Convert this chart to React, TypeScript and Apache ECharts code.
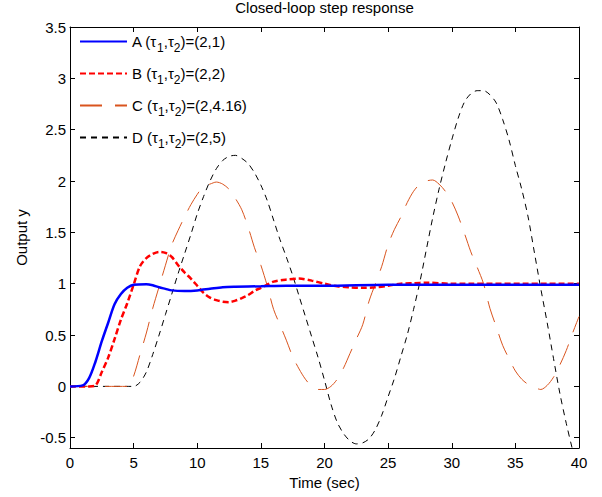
import React, { useEffect, useRef } from "react";
import * as echarts from "echarts";

const titleText = "Closed-loop step response";
const xAxisTitle = "Time (sec)";
const yAxisTitle = "Output y";

const xTicks = [0, 5, 10, 15, 20, 25, 30, 35, 40];
const yTicks = [-0.5, 0, 0.5, 1, 1.5, 2, 2.5, 3, 3.5];

const seriesNames = ["A", "B", "C", "D"];
const legendParams = ["(2,1)", "(2,2)", "(2,4.16)", "(2,5)"];

const timeA = [0, 1, 1.5, 2, 2.5, 3, 3.5, 4, 4.5, 5, 6, 6.5, 7, 7.5, 8, 9, 10, 11, 12, 13, 15, 17, 20, 25, 40];
const valuesA = [0, 0.01, 0.08, 0.24, 0.44, 0.62, 0.8, 0.9, 0.96, 0.99, 0.995, 0.985, 0.965, 0.95, 0.935, 0.93, 0.935, 0.95, 0.965, 0.97, 0.975, 0.98, 0.98, 0.99, 0.99];

const timeB = [0, 1.5, 2, 2.5, 3, 3.5, 4, 4.5, 5, 5.5, 6, 6.5, 7, 7.5, 8, 8.5, 9, 9.5, 10, 10.5, 11, 11.5, 12, 12.5, 13, 13.5, 14, 14.5, 15, 15.5, 16, 17, 18, 19, 20, 21, 22, 23, 24, 25, 26, 27, 28, 30, 40];
const valuesB = [0, 0, 0.01, 0.14, 0.28, 0.46, 0.65, 0.81, 0.99, 1.17, 1.25, 1.29, 1.31, 1.3, 1.26, 1.18, 1.11, 1.05, 0.98, 0.91, 0.865, 0.84, 0.825, 0.82, 0.835, 0.86, 0.89, 0.93, 0.96, 0.99, 1.02, 1.04, 1.05, 1.03, 1.0, 0.975, 0.965, 0.96, 0.965, 0.98, 1.0, 1.005, 1.01, 1.0, 1.0];

const timeC = [0, 4.6, 5, 5.5, 6, 6.5, 7, 7.5, 8, 8.5, 9, 9.5, 10, 10.5, 11, 11.5, 12, 12.5, 13, 13.5, 14, 14.5, 15, 15.5, 16, 16.5, 17, 17.5, 18, 18.5, 19, 19.5, 20, 20.5, 21, 21.5, 22, 22.5, 23, 23.5, 24, 24.5, 25, 25.5, 26, 26.5, 27, 27.5, 28, 28.5, 29, 29.5, 30, 30.5, 31, 31.5, 32, 32.5, 33, 33.5, 34, 34.5, 35, 35.5, 36, 36.5, 37, 37.5, 38, 38.5, 39, 39.5, 40];
const valuesC = [0, 0, 0.1, 0.31, 0.52, 0.76, 0.97, 1.18, 1.38, 1.52, 1.65, 1.77, 1.87, 1.95, 1.97, 1.99, 1.97, 1.92, 1.83, 1.72, 1.55, 1.35, 1.18, 0.98, 0.75, 0.6, 0.45, 0.29, 0.17, 0.07, 0.0, -0.03, -0.03, 0.0, 0.07, 0.18, 0.32, 0.46, 0.6, 0.83, 1.0, 1.17, 1.38, 1.53, 1.65, 1.79, 1.9, 1.97, 2.0, 2.01, 1.97, 1.9, 1.8, 1.66, 1.49, 1.31, 1.16, 1.0, 0.76, 0.58, 0.4, 0.27, 0.15, 0.07, 0.02, -0.01, -0.03, 0.01, 0.09, 0.21, 0.35, 0.52, 0.68];

const timeD = [0, 5, 5.5, 6, 6.5, 7, 7.5, 8, 8.5, 9, 9.5, 10, 10.5, 11, 11.5, 12, 12.5, 13, 13.5, 14, 14.5, 15, 15.5, 16, 16.5, 17, 17.5, 18, 18.5, 19, 19.5, 20, 20.5, 21, 21.5, 22, 22.5, 23, 23.5, 24, 24.5, 25, 25.5, 26, 26.5, 27, 27.5, 28, 28.5, 29, 29.5, 30, 30.5, 31, 31.5, 32, 32.5, 33, 33.5, 34, 34.5, 35, 35.5, 36, 36.5, 37, 37.5, 38, 38.5, 39, 39.5, 40];
const valuesD = [0, 0, 0.04, 0.14, 0.31, 0.5, 0.7, 0.9, 1.1, 1.29, 1.48, 1.68, 1.85, 2.0, 2.12, 2.2, 2.24, 2.25, 2.22, 2.17, 2.08, 1.96, 1.81, 1.62, 1.43, 1.26, 1.08, 0.88, 0.68, 0.48, 0.28, 0.06, -0.17, -0.35, -0.46, -0.53, -0.56, -0.55, -0.51, -0.42, -0.28, -0.1, 0.08, 0.29, 0.5, 0.75, 1.02, 1.33, 1.64, 1.92, 2.17, 2.4, 2.61, 2.77, 2.85, 2.88, 2.88, 2.84, 2.76, 2.6, 2.4, 2.15, 1.92, 1.65, 1.3, 0.95, 0.62, 0.27, -0.07, -0.36, -0.62, -0.85];

const FONT = "Arial, 'Liberation Sans', Helvetica, sans-serif";

function pairs(t: number[], v: number[]) {
  return t.map((x, i) => [x, v[i]]);
}

export default function App() {
  const ref = useRef<HTMLDivElement>(null);
  useEffect(() => {
    if (!ref.current) return;
    const chart = echarts.init(ref.current, null, { renderer: "svg" });
    const styles = [
      { color: "#0000FF", width: 2.5, type: "solid" as any },
      { color: "#FF0000", width: 2.5, type: [6, 3] as any },
      { color: "#D9541E", width: 1, type: [22, 13] as any },
      { color: "#000000", width: 1, type: [6, 5] as any },
    ];
    const datasets = [
      pairs(timeA, valuesA),
      pairs(timeB, valuesB),
      pairs(timeC, valuesC),
      pairs(timeD, valuesD),
    ];
    const labelOf: Record<string, string> = {};
    seriesNames.forEach((n, i) => {
      labelOf[n] = `{n|${n} (τ}{s|1}{n|,τ}{s|2}{n|)=${legendParams[i]}}`;
    });
    const tickCommon = { show: true, inside: true, length: 5, lineStyle: { color: "#000", width: 1 } };
    const lineCommon = { show: true, onZero: false, lineStyle: { color: "#000", width: 1 } };
    chart.setOption({
      animation: false,
      backgroundColor: "#fff",
      title: {
        text: titleText,
        left: 324.5,
        textAlign: "center",
        top: 0,
        padding: 0,
        textStyle: { fontFamily: FONT, fontSize: 15, fontWeight: "normal", color: "#000" },
      },
      grid: { left: 70, right: 23, top: 27, bottom: 49, containLabel: false },
      legend: {
        orient: "vertical",
        left: 79,
        top: 34,
        padding: 0,
        itemGap: 12,
        itemWidth: 47,
        itemHeight: 14,
        selectedMode: false,
        data: seriesNames,
        itemStyle: { opacity: 0, borderWidth: 0 },
        formatter: (name: string) => labelOf[name],
        textStyle: {
          fontFamily: FONT,
          fontSize: 15,
          color: "#000",
          rich: {
            n: { fontFamily: FONT, fontSize: 15, color: "#000" },
            s: { fontFamily: FONT, fontSize: 12, color: "#000", padding: [13, 0, 0, 0] },
          },
        },
      },
      xAxis: [
        {
          type: "value",
          min: 0,
          max: 40,
          interval: 5,
          position: "bottom",
          name: xAxisTitle,
          nameLocation: "middle",
          nameGap: 27,
          nameTextStyle: { fontFamily: FONT, fontSize: 15, color: "#000" },
          axisLine: lineCommon,
          axisTick: tickCommon,
          splitLine: { show: false },
          axisLabel: {
            margin: 7,
            fontFamily: FONT,
            fontSize: 15,
            color: "#000",
            customValues: xTicks,
            formatter: (v: number) => String(v),
          },
        },
        {
          type: "value",
          min: 0,
          max: 40,
          interval: 5,
          position: "top",
          axisLine: lineCommon,
          axisTick: tickCommon,
          splitLine: { show: false },
          axisLabel: { show: false },
        },
      ],
      yAxis: [
        {
          type: "value",
          min: -0.6,
          max: 3.5,
          position: "left",
          name: yAxisTitle,
          nameLocation: "middle",
          nameGap: 40,
          nameRotate: 90,
          nameTextStyle: { fontFamily: FONT, fontSize: 15, color: "#000" },
          axisLine: lineCommon,
          axisTick: { ...tickCommon, customValues: yTicks },
          splitLine: { show: false },
          axisLabel: {
            margin: 4,
            fontFamily: FONT,
            fontSize: 15,
            color: "#000",
            customValues: yTicks,
            formatter: (v: number) => String(v),
          },
        },
        {
          type: "value",
          min: -0.6,
          max: 3.5,
          position: "right",
          axisLine: lineCommon,
          axisTick: { ...tickCommon, customValues: yTicks },
          splitLine: { show: false },
          axisLabel: { show: false, customValues: yTicks },
        },
      ],
      series: seriesNames.map((n, i) => ({
        name: n,
        type: "line",
        xAxisIndex: 0,
        yAxisIndex: 0,
        data: datasets[i],
        smooth: 0.3,
        showSymbol: false,
        symbol: "none",
        clip: true,
        z: 10 - i,
        itemStyle: { color: styles[i].color },
        lineStyle: { color: styles[i].color, width: styles[i].width, type: styles[i].type },
      })),
    });
    return () => chart.dispose();
  }, []);
  return (
    <div
      ref={ref}
      style={{ position: "fixed", left: 0, top: 0, width: 602, height: 497, background: "#fff" }}
    />
  );
}
